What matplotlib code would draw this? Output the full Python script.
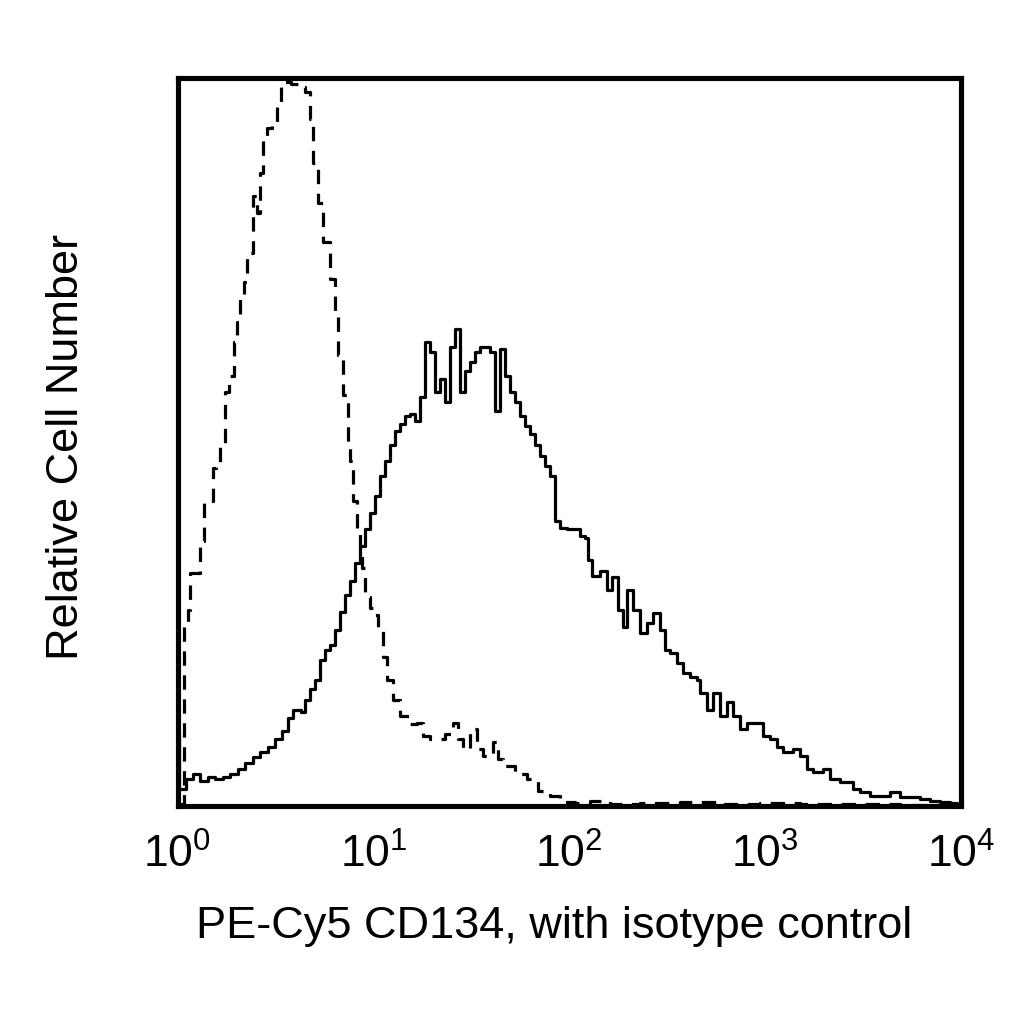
import matplotlib
matplotlib.use("Agg")
import matplotlib.pyplot as plt
import numpy as np

plt.rcParams['font.family'] = ['Liberation Sans', 'DejaVu Sans']
plt.rcParams['mathtext.fontset'] = 'custom'
plt.rcParams['mathtext.rm'] = 'Liberation Sans'

# log10 fluorescence (decades) and relative counts
stain_log = [0.000, 0.010, 0.041, 0.077, 0.117, 0.158, 0.194, 0.230, 0.270, 0.311,
             0.347, 0.383, 0.423, 0.464, 0.500, 0.536, 0.566, 0.592, 0.628, 0.653,
             0.679, 0.704, 0.730, 0.755, 0.781, 0.806, 0.832, 0.857, 0.883, 0.908,
             0.934, 0.959, 0.985, 1.010, 1.036, 1.061, 1.087, 1.112, 1.138, 1.163,
             1.189, 1.214, 1.240, 1.265, 1.291, 1.316, 1.342, 1.367, 1.393, 1.418,
             1.444, 1.469, 1.495, 1.520, 1.546, 1.571, 1.597, 1.622, 1.648, 1.673,
             1.699, 1.724, 1.750, 1.776, 1.801, 1.827, 1.852, 1.878, 1.903, 1.929,
             1.954, 1.990, 2.020, 2.056, 2.082, 2.097, 2.117, 2.158, 2.194, 2.219,
             2.250, 2.276, 2.296, 2.327, 2.362, 2.398, 2.429, 2.464, 2.490, 2.515,
             2.551, 2.582, 2.617, 2.653, 2.668, 2.704, 2.735, 2.770, 2.806, 2.837,
             2.872, 2.908, 2.959, 2.990, 3.026, 3.061, 3.092, 3.143, 3.179, 3.214,
             3.245, 3.296, 3.332, 3.383, 3.418, 3.449, 3.485, 3.536, 3.587, 3.638,
             3.689, 3.740, 3.791, 3.842, 3.893, 3.944, 3.980]
stain_cnt = [9.9, 2.3, 3.7, 4.4, 3.4, 4.0, 3.7, 4.0, 4.4, 5.1,
             6.0, 6.7, 7.5, 8.1, 9.2, 10.3, 12.2, 13.3, 13.0, 14.7,
             16.1, 17.4, 20.2, 21.5, 22.2, 24.3, 26.8, 29.1, 31.1, 33.6,
             35.9, 38.3, 40.5, 42.8, 45.5, 47.6, 49.9, 51.7, 52.7, 53.8,
             54.1, 53.1, 56.5, 64.1, 62.7, 57.2, 59.0, 55.8, 63.4, 65.8,
             57.2, 60.0, 61.3, 62.7, 63.4, 63.4, 62.7, 54.5, 63.1, 59.3,
             57.2, 55.8, 53.8, 52.4, 51.3, 49.9, 48.3, 46.9, 45.5, 39.4,
             38.4, 38.3, 38.3, 37.3, 37.0, 33.9, 31.8, 32.5, 29.8, 31.6,
             27.0, 24.7, 29.8, 27.0, 23.9, 25.2, 26.6, 24.3, 21.5, 21.1,
             19.8, 18.4, 17.8, 17.4, 15.6, 13.3, 15.6, 12.4, 14.3, 12.4,
             10.6, 11.5, 11.5, 9.6, 9.2, 8.2, 7.4, 7.8, 6.9, 5.1,
             4.7, 5.1, 3.7, 3.3, 3.3, 2.3, 1.9, 1.4, 1.4, 1.9,
             1.2, 1.2, 1.0, 0.7, 0.6, 0.4, 0.3]

iso_log = [0.010, 0.031, 0.056, 0.066, 0.107, 0.117, 0.133, 0.179, 0.199, 0.219,
           0.245, 0.265, 0.286, 0.306, 0.321, 0.342, 0.357, 0.383, 0.408, 0.423,
           0.434, 0.459, 0.485, 0.510, 0.526, 0.551, 0.577, 0.602, 0.628, 0.653,
           0.679, 0.694, 0.719, 0.745, 0.781, 0.806, 0.821, 0.847, 0.872, 0.883,
           0.898, 0.918, 0.934, 0.944, 0.959, 0.985, 1.010, 1.026, 1.051, 1.071,
           1.102, 1.138, 1.189, 1.224, 1.255, 1.291, 1.327, 1.367, 1.408, 1.434,
           1.459, 1.495, 1.531, 1.561, 1.612, 1.638, 1.663, 1.724, 1.786, 1.842,
           1.903, 1.954, 2.031, 2.107, 2.209, 2.362, 2.566, 2.770, 2.974, 3.179,
           3.434, 3.689, 3.985]
iso_cnt = [0.3, 25.2, 27.0, 32.1, 32.1, 36.6, 42.1, 46.6, 46.9, 49.9,
           57.2, 59.3, 64.1, 66.8, 70.0, 72.3, 76.4, 84.2, 81.9, 87.4,
           92.5, 93.6, 94.2, 96.6, 99.3, 100.0, 99.7, 99.7, 99.3, 98.6,
           94.9, 88.8, 83.3, 77.8, 72.7, 67.8, 62.3, 56.8, 49.9, 47.6,
           42.1, 38.0, 35.9, 32.9, 28.8, 27.4, 26.3, 24.3, 20.6, 17.4,
           14.7, 12.4, 11.3, 11.5, 9.6, 9.2, 9.2, 9.9, 11.5, 9.2,
           7.8, 10.6, 7.8, 6.9, 8.8, 6.5, 5.5, 4.4, 3.7, 2.1,
           1.4, 0.6, 0.4, 0.7, 0.3, 0.4, 0.6, 0.3, 0.4, 0.3,
           0.3, 0.1, 0.1]

tick_vals = [1, 10, 100, 1000, 10000]
tick_labels = [r'$\mathregular{10^{0}}$', r'$\mathregular{10^{1}}$', r'$\mathregular{10^{2}}$',
               r'$\mathregular{10^{3}}$', r'$\mathregular{10^{4}}$']
x_title = 'PE-Cy5 CD134, with isotype control'
y_title = 'Relative Cell Number'

fig = plt.figure(figsize=(10.24, 10.24), dpi=100)
ax = fig.add_axes([177.5/1024, 1 - 806/1024, 783.5/1024, 728/1024])

ax.step(10 ** np.array(stain_log), stain_cnt, where='post', color='black', lw=2.3)
ax.step(10 ** np.array(iso_log), iso_cnt, where='post', color='black', lw=2.3,
        linestyle=(0, (4.5, 3)))

ax.set_xscale('log')
ax.set_xlim(1, 10000)
ax.set_ylim(0, 100.5)
ax.set_xticks(tick_vals)
ax.set_xticklabels(tick_labels)
ax.minorticks_off()
ax.tick_params(axis='x', length=0, pad=20, labelsize=32)
ax.set_yticks([])
for s in ax.spines.values():
    s.set_linewidth(3.7)
    s.set_color('black')

fig.text(554/1024, 1 - 938/1024, x_title, fontsize=32.5, ha='center', va='baseline')
fig.text(67/1024, 1 - 447/1024, y_title, fontsize=32.5, ha='center', va='center',
         rotation=90)

fig.savefig('out.png', dpi=100, facecolor='white')
